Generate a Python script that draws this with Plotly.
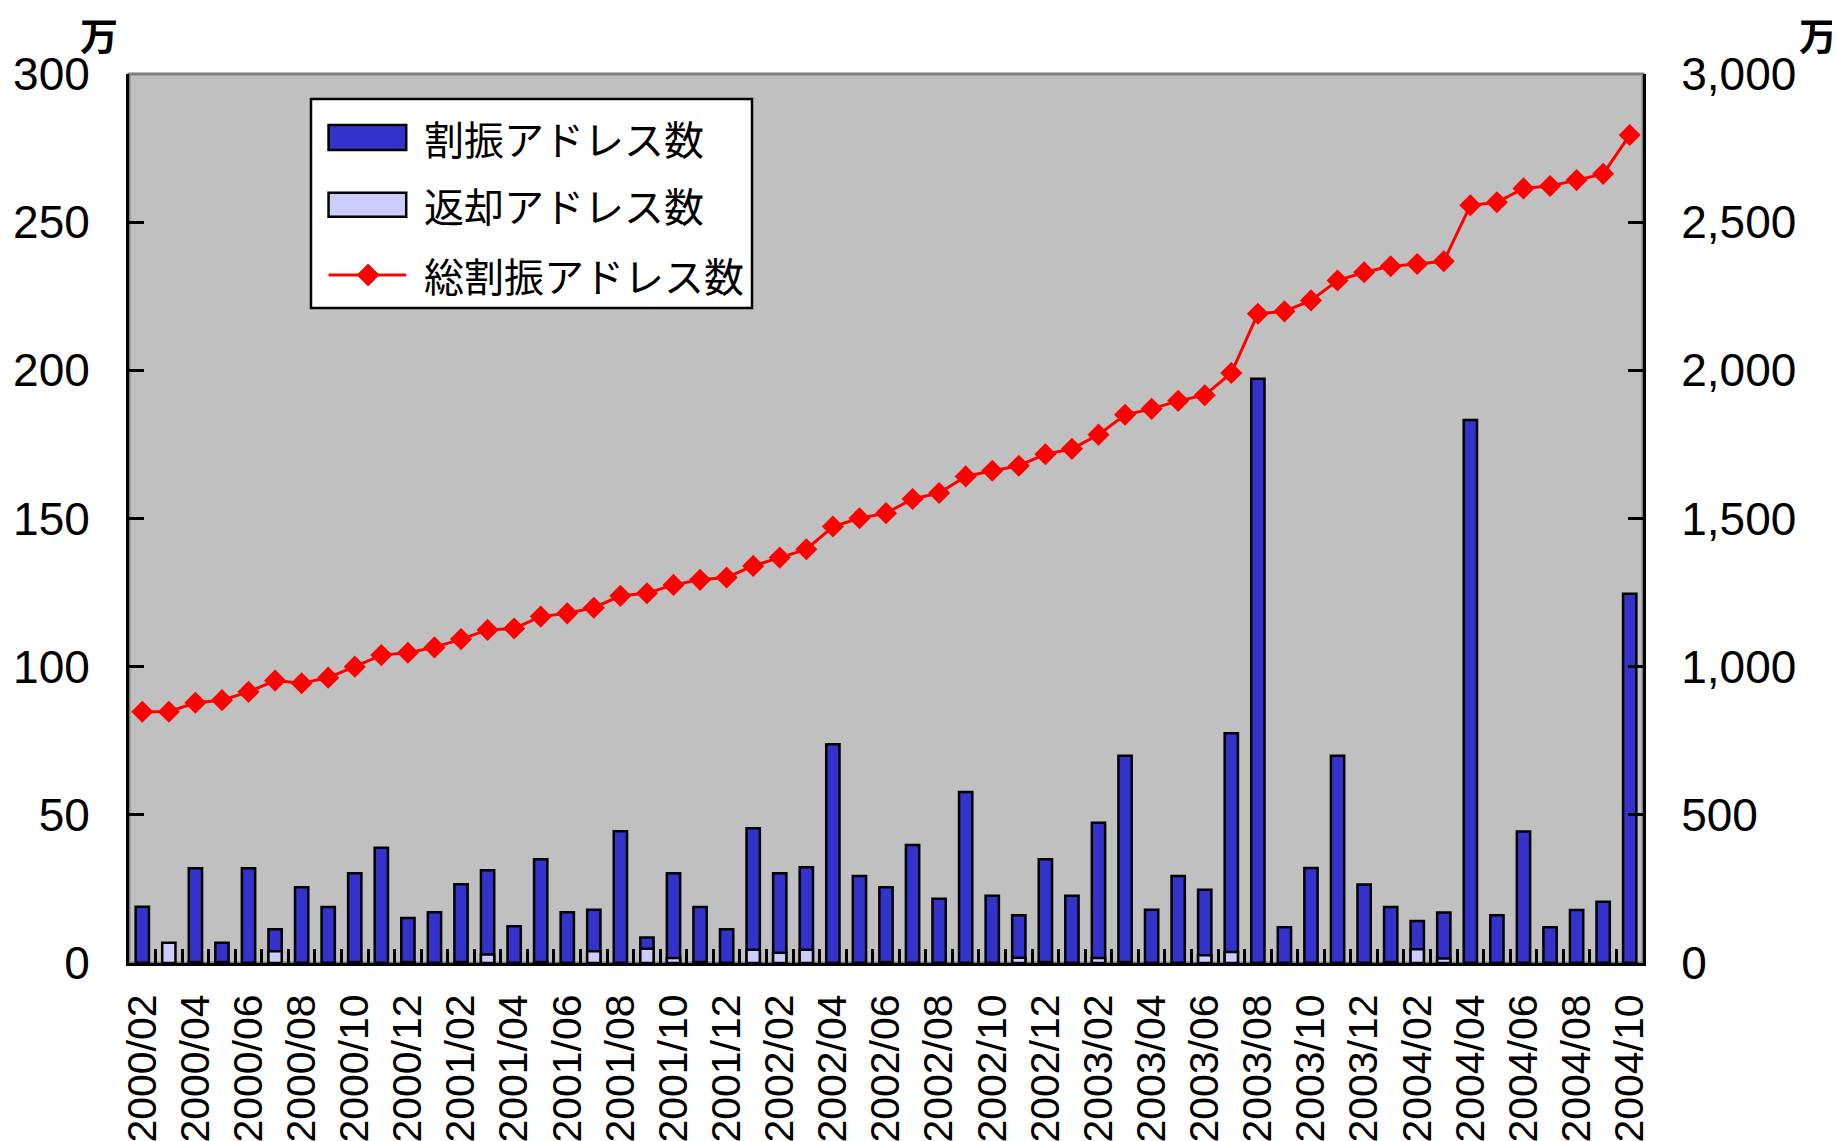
import plotly.graph_objects as go

# monthly categories 2000/02 .. 2004/10
months = [f"{y}/{m:02d}" for y in range(2000, 2005) for m in range(1, 13)]
months = months[months.index("2000/02"):months.index("2004/10") + 1]

# 割振アドレス数 (万)
allocated = [
    19.0, 0.0, 32.0, 6.8, 32.0, 11.4, 25.6, 18.9, 30.3, 38.9,
    15.2, 17.1, 26.6, 31.3, 12.4, 35.0, 17.1, 18.0, 44.5, 8.6,
    30.3, 18.9, 11.4, 45.5, 30.3, 32.3, 73.8, 29.4, 25.6, 39.8,
    21.7, 57.7, 22.7, 16.1, 35.0, 22.7, 47.3, 69.9, 18.0, 29.4,
    24.7, 77.5, 197.2, 12.1, 32.1, 69.9, 26.5, 18.9, 14.2, 17.0,
    183.2, 16.1, 44.4, 12.1, 17.9, 20.7, 124.6,
]
# 返却アドレス数 (万)
returned = [
    0.0, 6.8, 0.3, 0.3, 0.0, 4.0, 0.0, 0.0, 0.3, 0.0,
    0.3, 0.0, 0.3, 2.9, 0.0, 0.3, 0.0, 4.0, 0.0, 4.8,
    1.7, 0.3, 0.0, 4.5, 3.5, 4.5, 0.0, 0.0, 0.3, 0.0,
    0.0, 0.0, 0.0, 1.8, 0.3, 0.0, 1.7, 0.3, 0.0, 0.0,
    2.6, 3.7, 0.0, 0.0, 0.0, 0.0, 0.0, 0.3, 4.6, 1.5,
    0.0, 0.0, 0.0, 0.0, 0.0, 0.0, 0.0,
]
# 総割振アドレス数 (万)
total = [
    848, 848, 878, 887, 915, 953, 944, 963, 1000, 1039,
    1047, 1065, 1093, 1124, 1129, 1169, 1180, 1199, 1239, 1248,
    1276, 1293, 1301, 1340, 1368, 1396, 1473, 1501, 1518, 1566,
    1586, 1642, 1661, 1678, 1717, 1735, 1783, 1850, 1870, 1897,
    1916, 1991, 2191, 2199, 2236, 2303, 2331, 2351, 2359, 2368,
    2557, 2567, 2614, 2622, 2642, 2663, 2794,
]

names = ["割振アドレス数", "返却アドレス数", "総割振アドレス数"]
BLUE, LIGHT, RED = "#3333CC", "#CCCCFF", "#FF0000"
JP = "Noto Sans CJK JP"
NUM = "Liberation Sans, Arial"

fig = go.Figure()
fig.add_trace(go.Bar(x=months, y=allocated, name=names[0], marker_color=BLUE,
                     marker_line=dict(color="black", width=2.5), showlegend=False))
fig.add_trace(go.Bar(x=months, y=returned, name=names[1], marker_color=LIGHT,
                     marker_line=dict(color="black", width=2.5), showlegend=False))
fig.add_trace(go.Scatter(x=months, y=total, name=names[2], yaxis="y2", mode="lines+markers",
                         line=dict(color=RED, width=3),
                         marker=dict(symbol="diamond", size=17, color=RED), showlegend=False))

ticktext = [m if i % 2 == 0 else "" for i, m in enumerate(months)]

# the page body adds an 8px offset, so margins are trimmed on the left/top
fig.update_layout(
    width=1840, height=1141,
    margin=dict(l=121, r=205, t=66, b=186),
    paper_bgcolor="white", plot_bgcolor="#C0C0C0",
    barmode="overlay", bargap=0.5,
    font=dict(family=NUM, size=46, color="black"),
    xaxis=dict(type="category", tickmode="array", tickvals=months, ticktext=ticktext,
               tickangle=-90, tickson="boundaries", ticks="inside", ticklen=14, tickwidth=2.5,
               tickcolor="black", showline=True, linecolor="black", linewidth=3,
               showgrid=False, ticklabelstandoff=12, range=[-0.5, len(months) - 0.5],
               tickfont=dict(size=41), automargin=False),
    yaxis=dict(range=[0, 300], dtick=50, ticks="inside", ticklen=15, tickwidth=2.5,
               tickcolor="black", showline=True, linecolor="black", linewidth=3,
               showgrid=False, zeroline=False, ticklabelstandoff=27, automargin=False),
    yaxis2=dict(range=[0, 3000], dtick=500, tickformat=",d", overlaying="y", side="right",
                ticks="inside", ticklen=15, tickwidth=2.5, tickcolor="black",
                showline=True, linecolor="black", linewidth=3, showgrid=False,
                zeroline=False, ticklabelstandoff=26, automargin=False),
)

# plot-area frame (grey top edge)
fig.add_shape(type="rect", xref="paper", yref="paper", x0=0, x1=1, y0=0, y1=1,
              line=dict(color="#808080", width=3), layer="below")

# unit labels
for xp in (-0.02, 1.1153):
    fig.add_annotation(x=xp, y=1.046, xref="paper", yref="paper", text="<b>万</b>",
                       showarrow=False, font=dict(family=JP, size=38),
                       xanchor="center", yanchor="middle")

# legend box
fig.add_shape(type="rect", xref="paper", yref="paper", x0=0.1202, x1=0.4115, y0=0.7368,
              y1=0.9719, fillcolor="white", line=dict(color="black", width=2.5), layer="above")
fig.add_shape(type="rect", xref="paper", yref="paper", x0=0.1318, x1=0.1831, y0=0.9145,
              y1=0.9426, fillcolor=BLUE, line=dict(color="black", width=2.5), layer="above")
fig.add_shape(type="rect", xref="paper", yref="paper", x0=0.1318, x1=0.1831, y0=0.8395,
              y1=0.8665, fillcolor=LIGHT, line=dict(color="black", width=2.5), layer="above")
fig.add_shape(type="line", xref="paper", yref="paper", x0=0.1318, x1=0.1831, y0=0.7739,
              y1=0.7739, line=dict(color=RED, width=3), layer="above")
cx, cy, hw, hh = 0.1579, 0.7739, 0.0072, 0.0122
fig.add_shape(type="path", xref="paper", yref="paper",
              path=f"M {cx - hw} {cy} L {cx} {cy + hh} L {cx + hw} {cy} L {cx} {cy - hh} Z",
              fillcolor=RED, line=dict(color=RED, width=1), layer="above")
for name, yp in zip(names, (0.9277, 0.8526, 0.7739)):
    fig.add_annotation(x=0.1935, y=yp, xref="paper", yref="paper", text=name,
                       showarrow=False, font=dict(family=JP, size=40),
                       xanchor="left", yanchor="middle")

fig.write_html("out.html")
